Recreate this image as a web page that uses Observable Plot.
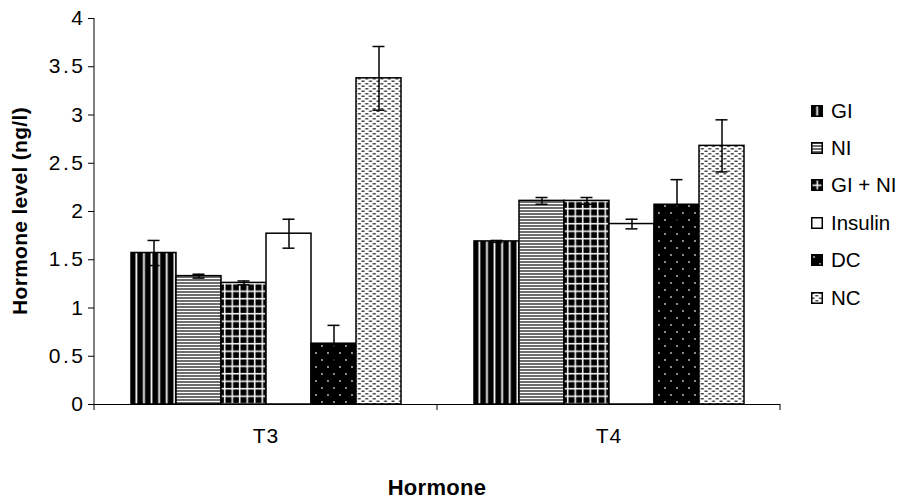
<!DOCTYPE html>
<html>
<head>
<meta charset="utf-8">
<script src="https://cdn.jsdelivr.net/npm/d3@7"></script>
<script src="https://cdn.jsdelivr.net/npm/@observablehq/plot@0.6"></script>
<style>
  html, body { margin: 0; padding: 0; background: #fff; }
  #wrap { position: relative; width: 899px; height: 502px; font-family: "Liberation Sans", Arial, sans-serif; color: #000; }
  #ytitle { position: absolute; left: 20px; top: 211px; transform: translate(-50%, -50%) rotate(-90deg); font-weight: bold; font-size: 21px; letter-spacing: 0.3px; white-space: nowrap; }
  #xtitle { position: absolute; left: 437px; top: 488px; transform: translate(-50%, -50%); font-weight: bold; font-size: 22px; letter-spacing: 0.3px; white-space: nowrap; }
  #legend { position: absolute; left: 811px; top: 92px; }
  .item { display: flex; align-items: center; height: 37.4px; font-size: 20.5px; white-space: nowrap; }
  .item svg { margin-right: 8px; }
  #chart svg g[aria-label="y-axis tick label"] text { letter-spacing: 2.5px; }
  #chart svg g[aria-label="fx-axis tick label"] text { letter-spacing: 1px; }
</style>
</head>
<body>
<svg width="0" height="0" style="position:absolute">
  <defs>
    <pattern id="pGI" patternUnits="userSpaceOnUse" width="7.6" height="8">
      <rect width="7.6" height="8" fill="#000"/>
      <rect x="5.2" width="1.9" height="8" fill="#bbb"/>
      <rect x="5.6" width="1.1" height="8" fill="#fff"/>
    </pattern>
    <pattern id="pNI" patternUnits="userSpaceOnUse" width="8" height="3">
      <rect width="8" height="3" fill="#fff"/>
      <rect y="0" width="8" height="2" fill="#6e6e6e"/>
    </pattern>
    <pattern id="pGN" patternUnits="userSpaceOnUse" width="7.5" height="7.5">
      <rect width="7.5" height="7.5" fill="#000"/>
      <rect x="5.5" width="1.5" height="7.5" fill="#fff"/>
      <rect y="5.5" width="7.5" height="1.5" fill="#fff"/>
    </pattern>
    <pattern id="pDC" patternUnits="userSpaceOnUse" width="12" height="14">
      <rect width="12" height="14" fill="#000"/>
      <circle cx="3" cy="3" r="0.9" fill="#ccc"/>
      <circle cx="9" cy="10" r="0.9" fill="#ccc"/>
    </pattern>
    <pattern id="pNC" patternUnits="userSpaceOnUse" width="7.5" height="5">
      <rect width="7.5" height="5" fill="#fff"/>
      <rect x="0.5" y="0.5" width="3" height="1.5" fill="#444"/>
      <rect x="4.25" y="3" width="3" height="1.5" fill="#444"/>
    </pattern>
  </defs>
</svg>
<div id="wrap">
  <div id="chart"></div>
  <div id="ytitle">Hormone level (ng/l)</div>
  <div id="xtitle">Hormone</div>
  <div id="legend"></div>
</div>
<script>
// ---- data ----
const hormones = ["T3", "T4"];
const groups = ["GI", "NI", "GI + NI", "Insulin", "DC", "NC"];
const t3Values = [1.57, 1.33, 1.26, 1.77, 0.63, 3.38];
const t3Errors = [0.13, 0.02, 0.02, 0.15, 0.19, 0.33];
const t4Values = [1.69, 2.11, 2.11, 1.87, 2.07, 2.68];
const t4Errors = [0.01, 0.035, 0.035, 0.05, 0.26, 0.27];
const yTicks = [0, 0.5, 1, 1.5, 2, 2.5, 3, 3.5, 4];
const groupFills = ["url(#pGI)", "url(#pNI)", "url(#pGN)", "#fff", "url(#pDC)", "url(#pNC)"];

const seriesValues = {T3: t3Values, T4: t4Values};
const seriesErrors = {T3: t3Errors, T4: t4Errors};
const data = hormones.flatMap(h => groups.map((g, i) => ({
  hormone: h, group: g, value: seriesValues[h][i], err: seriesErrors[h][i]
})));

const font = "Liberation Sans, Arial, sans-serif";

const plot = Plot.plot({
  width: 899,
  height: 502,
  marginLeft: 93,
  marginRight: 119,
  marginTop: 18,
  marginBottom: 98,
  style: {fontFamily: font, fontSize: "21px", color: "#000", background: "transparent"},
  fx: {domain: hormones, padding: 0, label: null, axis: null},
  x: {domain: groups, paddingInner: 0, paddingOuter: 0.73, axis: null},
  y: {domain: [0, 4], label: null},
  color: {domain: groups, range: groupFills},
  marks: [
    Plot.barY(data, {fx: "hormone", x: "group", y: "value", fill: "group", stroke: "#000", strokeWidth: 1.5}),
    Plot.ruleX(data, {fx: "hormone", x: "group", y1: d => d.value - d.err, y2: d => d.value + d.err, stroke: "#000", strokeWidth: 1.5}),
    Plot.tickY(data, {fx: "hormone", x: "group", y: d => d.value + d.err, stroke: "#000", strokeWidth: 1.5, inset: 16.5}),
    Plot.tickY(data, {fx: "hormone", x: "group", y: d => d.value - d.err, stroke: "#000", strokeWidth: 1.5, inset: 16.5}),
    Plot.ruleY([0], {stroke: "#000", strokeWidth: 1}),
    Plot.axisY({ticks: yTicks, tickFormat: d => String(d), tickSize: 6, tickPadding: 3, label: null, fontSize: 21, stroke: "#000"}),
    Plot.axisFx({anchor: "bottom", tickSize: 0, tickPadding: 24, label: null, fontSize: 21})
  ]
});

document.getElementById("chart").appendChild(plot);

// axis line and band-boundary ticks, placed with the plot's own scales
const fx = plot.scale("fx");
const y = plot.scale("y");
const svg = d3.select(plot);
const y0 = y.apply(0), yTop = y.apply(4);
const x0 = fx.apply(hormones[0]);
svg.append("line").attr("x1", x0).attr("x2", x0).attr("y1", y0).attr("y2", yTop)
  .attr("stroke", "#000").attr("stroke-width", 1);
const bounds = hormones.map(h => fx.apply(h)).concat(fx.apply(hormones[hormones.length - 1]) + fx.bandwidth);
svg.append("g").selectAll("line").data(bounds).join("line")
  .attr("x1", d => d).attr("x2", d => d).attr("y1", y0).attr("y2", y0 + 6)
  .attr("stroke", "#000").attr("stroke-width", 1);

// legend
const legend = d3.select("#legend");
groups.forEach((g, i) => {
  const item = legend.append("div").attr("class", "item");
  const s = item.append("svg").attr("width", 12).attr("height", 12);
  s.append("rect").attr("x", 0.75).attr("y", 0.75).attr("width", 10.5).attr("height", 10.5)
    .attr("fill", groupFills[i]).attr("stroke", "#000").attr("stroke-width", 1.5);
  item.append("span").text(g);
});
</script>
</body>
</html>
